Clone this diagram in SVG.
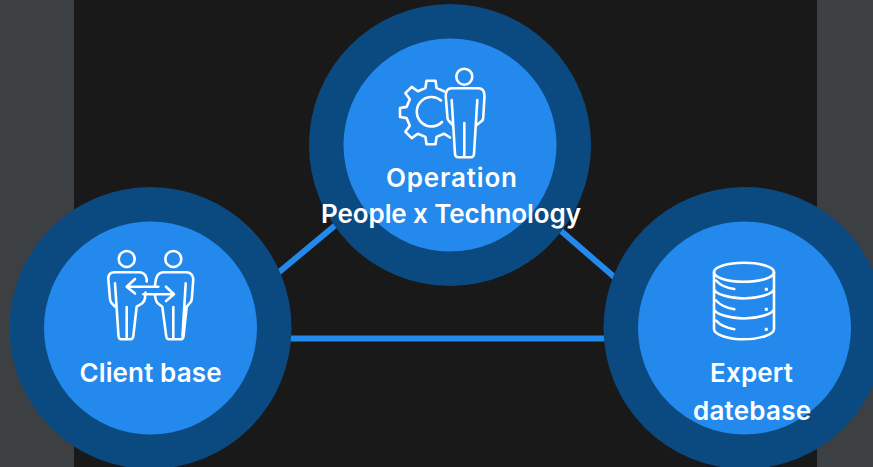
<svg xmlns="http://www.w3.org/2000/svg" width="873" height="467" viewBox="0 0 873 467">
<style>
.outer{fill:#0b4a80}
.inner{fill:#2389ec}
.link{stroke:#2389ec;stroke-width:6;fill:none}
.icon{fill:none;stroke:#fff;stroke-width:2.6;stroke-linecap:round;stroke-linejoin:round}
.dot{fill:#fff}
.label{font-family:"Inter","Open Sans","Liberation Sans",sans-serif;font-weight:600;font-size:26px;fill:#fff;text-anchor:middle}
</style>
<rect width="873" height="467" fill="#3c4043"/>
<rect x="74" width="743" height="467" fill="#191919"/>
<g id="connectors">
<line class="link" x1="260" y1="288" x2="350" y2="213"/>
<line class="link" x1="545" y1="217" x2="635" y2="295"/>
<line class="link" x1="270" y1="338.5" x2="625" y2="338.5"/>
</g>
<g id="node-operation">
<circle class="outer" cx="450" cy="145" r="141"/>
<circle class="inner" cx="450" cy="145" r="106.5"/>
<path class="icon" d="M444 91.3L436.6 88.1L435.5 80.8L426.5 80.8L425.4 88.1L417.8 91.3L411.7 86.9L405.4 93.2L409.8 99.3L406.6 106.9L400 108L400 117L406.6 118.1L409.8 125.7L405.4 131.8L411.7 138.1L417.8 133.7L425.4 136.9L426.5 144.2L435.5 144.2L436.6 136.9L444 133.7L450 137.5"/>
<path class="icon" d="M441 100.5A14.7 14.7 0 1 0 442 122"/>
<circle class="icon" cx="464.3" cy="76.7" r="8"/>
<path class="icon" d="M476.7 125L481.7 121Q483 120 483.2 118L484.5 96Q484.5 88.3 478.3 88.3L451.7 88.3Q445.7 88.3 445.7 96L447.5 118Q447.7 120 449 121L452.7 125M451.7 100L455 154Q455.3 157.3 458 157.3L471 157.3Q473.7 157.3 474 154L477.3 100M464.3 123L464.3 157"/>
<text class="label" x="451.5" y="187" textLength="131" lengthAdjust="spacing">Operation</text>
<text class="label" x="451" y="223" textLength="260" lengthAdjust="spacing">People x Technology</text>
</g>
<g id="node-client">
<circle class="outer" cx="150.5" cy="328" r="141"/>
<circle class="inner" cx="150.5" cy="328" r="106.5"/>
<circle class="icon" cx="126.7" cy="259" r="8"/>
<circle class="icon" cx="173.3" cy="259" r="8"/>
<path class="icon" d="M146.7 281.5L146.7 279Q145.5 272.3 139 272.3L114.5 272.3Q108.3 272.3 108.3 279L110 299Q110.3 302 112 303.5L115 306.7M115 283.3L118.5 336Q118.8 339.3 121 339.3L130.5 339.3Q133 339.3 133.3 336L136.7 306.7L142 303.5Q144.5 301.5 145 298L145.5 292.5M126.7 307L126.7 339"/>
<path class="icon" d="M155 285L156 279Q157.5 272.3 164 272.3L186 272.3Q192.5 272.3 193.3 279L191.8 299Q191.5 302 189.5 303.5L186.7 306.7L183.5 336Q183.2 339.3 180.5 339.3L169 339.3Q166.5 339.3 166.2 336L162.3 306.7L158 303.5Q155.5 301 155 295M185.7 283.3L182.5 336M173.3 307L173.3 339"/>
<path class="icon" d="M158.3 286.7L126.7 286.7M135 279L126.7 286.7L135 293.5M143.3 294.3L174 294.3M166 286.7L174 294.3L166 301"/>
<text class="label" x="150.5" y="382" textLength="142" lengthAdjust="spacing">Client base</text>
</g>
<g id="node-expert">
<circle class="outer" cx="744.5" cy="328" r="141"/>
<circle class="inner" cx="744.5" cy="328" r="106.5"/>
<ellipse class="icon" cx="744" cy="272.3" rx="30" ry="9.5"/>
<path class="icon" d="M714 272.3L714 288.5C714 294 730 298.5 744 298.5C758 298.5 774 294 774 288.5L774 272.3M714 288.5L714 308.5C714 314 730 318.5 744 318.5C758 318.5 774 314 774 308.5L774 288.5M714 308.5L714 329C714 335 730 339.3 744 339.3C758 339.3 774 335 774 329L774 308.5"/>
<path class="icon" d="M716 280.5C720 285 727 288 734.3 289M716 300.5C720 305 727 308 734.3 309.3M716 320.7C720 325 727 328 734.3 329.3"/>
<rect class="dot" x="764.8" y="287.8" width="3" height="3"/>
<rect class="dot" x="764.8" y="307.8" width="3" height="3"/>
<rect class="dot" x="764.8" y="327.8" width="3" height="3"/>
<text class="label" x="751.5" y="382" textLength="83" lengthAdjust="spacing">Expert</text>
<text class="label" x="752" y="420" textLength="118" lengthAdjust="spacing">datebase</text>
</g>
</svg>
